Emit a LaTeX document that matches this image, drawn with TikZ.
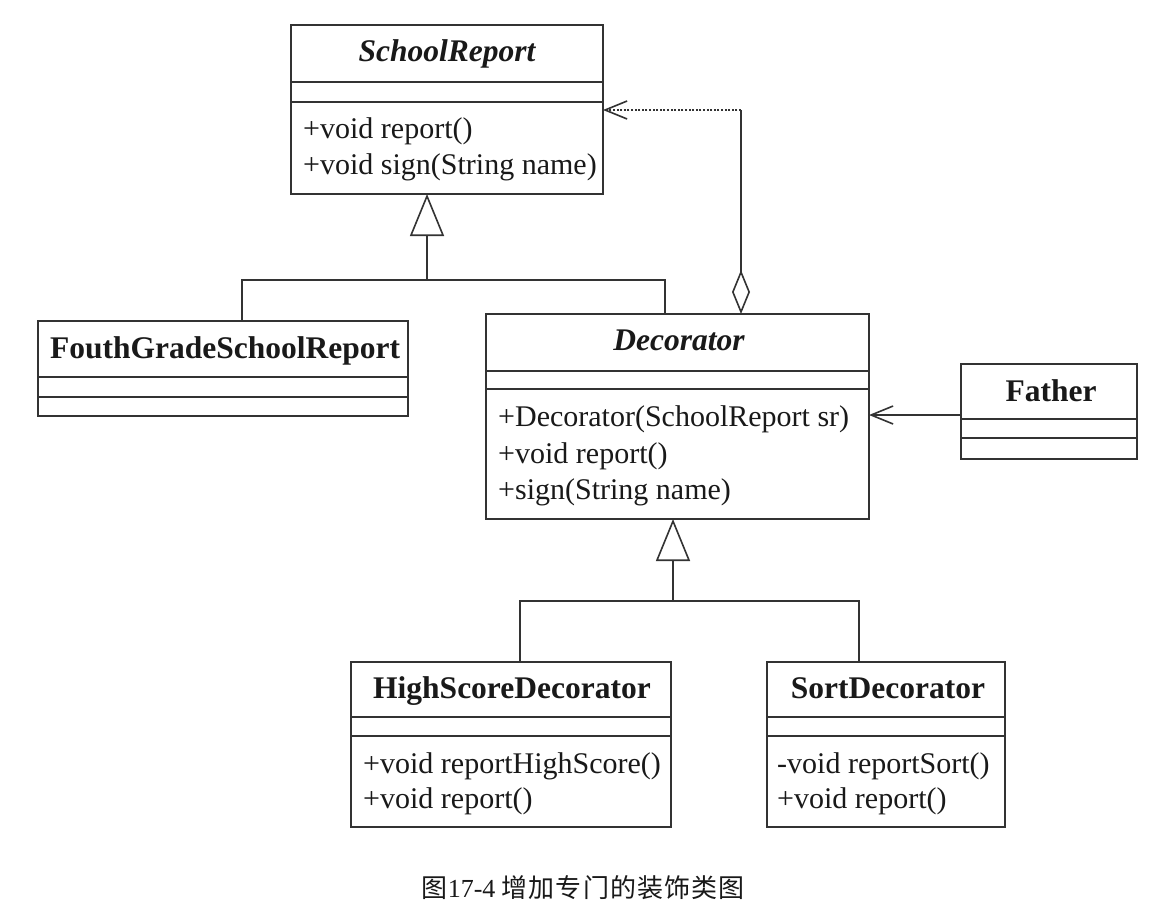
\documentclass[tikz,border=0pt]{standalone}
\usepackage{fontspec}
\setmainfont{Liberation Serif}
\newfontfamily\cjk{Noto Sans CJK SC}[LetterSpace=4]
\usetikzlibrary{arrows.meta}
\begin{document}
\begin{tikzpicture}[x=1pt,y=-1pt,
  ln/.style={draw=black!80, line width=1.6pt},
  cls/.style={ln, inner sep=0pt, outer sep=0pt, anchor=north west},
  ttl/.style={font=\fontsize{31.5}{36}\selectfont\bfseries, text height=22pt, text depth=6.3pt, inner sep=0pt, text=black!90},
  mth/.style={font=\fontsize{30}{36}\selectfont, text height=21.6pt, text depth=6.6pt, inner sep=0pt, anchor=west, text=black!90},
  gen/.style={ln, -{Triangle[open, length=42pt, width=34pt, line width=1.6pt]}},
  barb/.style={ln, -{Straight Barb[length=22pt, width=18pt, line width=1.6pt]}},
  agg/.style={ln, {Diamond[open, length=44pt, width=18pt, line width=1.6pt]}-},
  dots/.style={dash pattern=on 2pt off 1.6pt}
]
\fill[white] (0,0) rectangle (1172,916);
\useasboundingbox (0,0) rectangle (1172,916);

% SchoolReport
\node[cls, minimum width=312pt, minimum height=169pt] (sr) at (291,25) {};
\draw[ln] (sr.west |- 0,82) -- (sr.east |- 0,82);
\draw[ln] (sr.west |- 0,102) -- (sr.east |- 0,102);
\node[ttl] (srt) at (447,54) {\itshape SchoolReport};
\node[mth] (srm1) at (303,130.5) {+void report()};
\node[mth] (srm2) at (303,166.5) {+void sign(String name)};

% FouthGradeSchoolReport
\node[cls, minimum width=370pt, minimum height=95pt] (fg) at (38,321) {};
\draw[ln] (fg.west |- 0,377) -- (fg.east |- 0,377);
\draw[ln] (fg.west |- 0,397) -- (fg.east |- 0,397);
\node[ttl] (fgt) at (225,351) {FouthGradeSchoolReport};

% Decorator
\node[cls, minimum width=383pt, minimum height=205pt] (dec) at (486,314) {};
\draw[ln] (dec.west |- 0,371) -- (dec.east |- 0,371);
\draw[ln] (dec.west |- 0,389) -- (dec.east |- 0,389);
\node[ttl] (dect) at (679,343) {\itshape Decorator};
\node[mth] (decm1) at (498,419) {+Decorator(SchoolReport sr)};
\node[mth] (decm2) at (498,455.5) {+void report()};
\node[mth] (decm3) at (498,491.5) {+sign(String name)};

% Father
\node[cls, minimum width=176pt, minimum height=95pt] (fa) at (961,364) {};
\draw[ln] (fa.west |- 0,419) -- (fa.east |- 0,419);
\draw[ln] (fa.west |- 0,438) -- (fa.east |- 0,438);
\node[ttl] (fat) at (1051,394) {Father};

% HighScoreDecorator
\node[cls, minimum width=320pt, minimum height=165pt] (hs) at (351,662) {};
\draw[ln] (hs.west |- 0,717) -- (hs.east |- 0,717);
\draw[ln] (hs.west |- 0,736) -- (hs.east |- 0,736);
\node[ttl] (hst) at (512,691) {HighScoreDecorator};
\node[mth] (hsm1) at (363,765.5) {+void reportHighScore()};
\node[mth] (hsm2) at (363,800.5) {+void report()};

% SortDecorator
\node[cls, minimum width=238pt, minimum height=165pt] (so) at (767,662) {};
\draw[ln] (so.west |- 0,717) -- (so.east |- 0,717);
\draw[ln] (so.west |- 0,736) -- (so.east |- 0,736);
\node[ttl] (sot) at (888,691) {SortDecorator};
\node[mth] (som1) at (777,765.5) {-void reportSort()};
\node[mth] (som2) at (777,800.5) {+void report()};

% generalization 1
\coordinate (j1) at (427,280);
\coordinate (x1) at (242,0);
\coordinate (x2) at (665,0);
\draw[gen] (j1) -- (j1 |- sr.south);
\draw[ln] (fg.north -| x1) |- (j1) -| (dec.north -| x2);

% generalization 2
\coordinate (j2) at (673,601);
\coordinate (x3) at (520,0);
\coordinate (x4) at (859,0);
\draw[gen] (j2) -- (j2 |- dec.south);
\draw[ln] (hs.north -| x3) |- (j2) -| (so.north -| x4);

% aggregation Decorator -> SchoolReport
\coordinate (a1) at (741,110);
\draw[agg] (dec.north -| a1) -- (a1);
\draw[barb, dots] (a1) -- (sr.east |- a1);

% association Father -> Decorator
\coordinate (f1) at (0,415);
\draw[barb] (fa.west |- f1) -- (dec.east |- f1);

% caption
\node[font=\fontsize{26}{30}\selectfont, inner sep=0pt, text=black!90] (cap) at (583,888) {{\cjk 图}17-4 {\cjk 增加专门的装饰类图}};
\end{tikzpicture}
\end{document}
